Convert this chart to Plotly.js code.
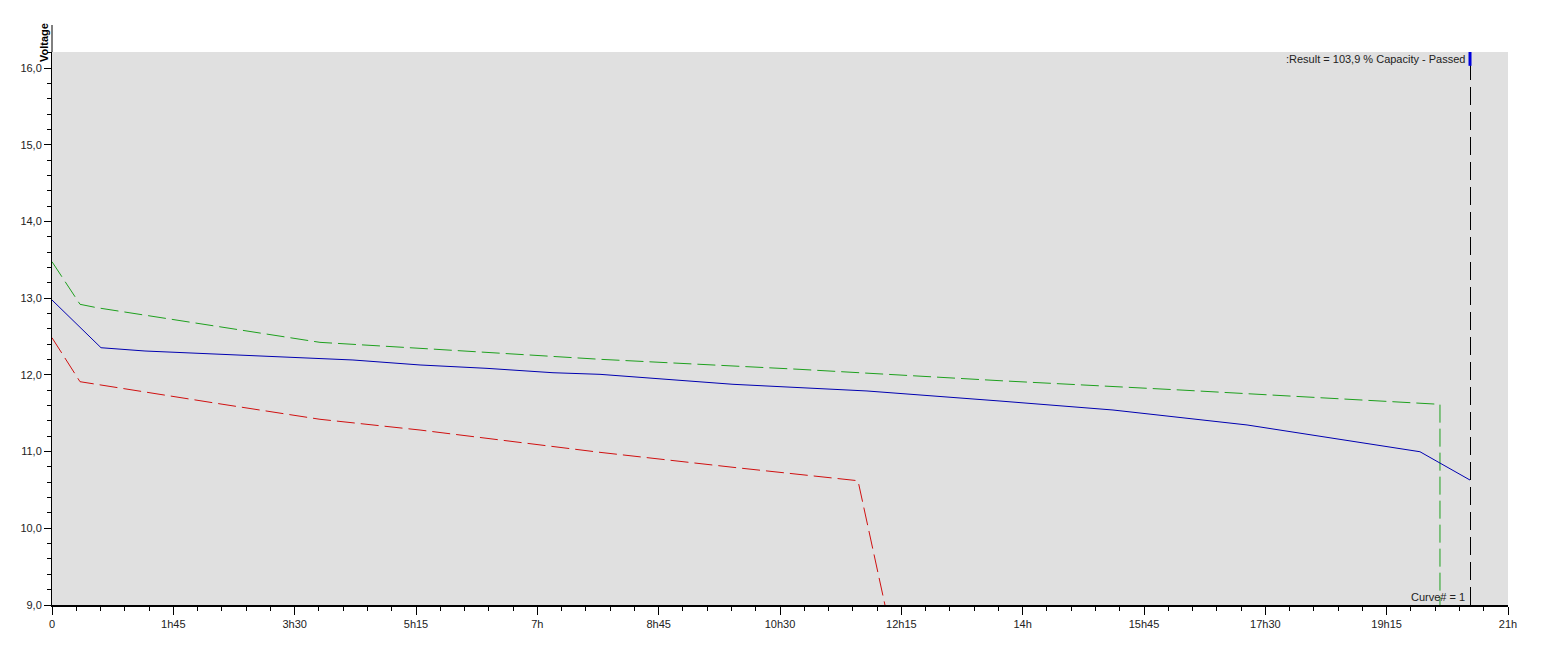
<!DOCTYPE html>
<html>
<head>
<meta charset="utf-8">
<script src="https://cdn.plot.ly/plotly-3.0.1.min.js"></script>
<style>html,body{margin:0;padding:0;background:#fff;}#chart{width:1555px;height:668px;}</style>
</head>
<body>
<div id="chart"></div>
<script>
// time in hours, voltage in V
const blueTime = [0, 0.707, 1.341, 2.423, 4.341, 5.308, 6.274, 7.226, 7.904, 9.822, 11.755, 13.673, 15.303, 17.236, 19.442, 19.73, 20.452];
const blueVolt = [12.976, 12.354, 12.311, 12.272, 12.194, 12.129, 12.085, 12.028, 12.007, 11.877, 11.790, 11.659, 11.542, 11.347, 11.037, 10.998, 10.629];

const greenTime = [0, 0.404, 0.645, 2.466, 3.865, 5.308, 6.750, 7.904, 10.788, 13.673, 16.269, 19.442, 20.019, 20.019];
const greenVolt = [13.475, 12.920, 12.876, 12.620, 12.424, 12.346, 12.268, 12.203, 12.072, 11.924, 11.803, 11.642, 11.616, 9.0];

const redTime = [0, 0.404, 2.466, 3.865, 5.308, 6.750, 7.904, 9.822, 11.625, 12.014];
const redVolt = [12.484, 11.911, 11.616, 11.421, 11.281, 11.121, 10.990, 10.795, 10.620, 9.0];

const cursorX = 20.452;
const xTickVals = [0, 1.75, 3.5, 5.25, 7, 8.75, 10.5, 12.25, 14, 15.75, 17.5, 19.25, 21];
const xTickText = ['0', '1h45', '3h30', '5h15', '7h', '8h45', '10h30', '12h15', '14h', '15h45', '17h30', '19h15', '21h'];
const resultText = ':Result = 103,9 % Capacity - Passed';
const curveText = 'Curve# = 1';
const yTitle = 'Voltage';

const font = {family: 'Arial, "Liberation Sans", sans-serif', size: 11, color: '#222'};

// half a pixel in x-axis units (plot width 1456 px over 21 h) for crisp 1px line
const halfPx = 0.5 * 21 / 1456;

const traces = [
  {x: greenTime, y: greenVolt, mode: 'lines', line: {color: '#1ea01e', width: 1, dash: '18px,6px'}, hoverinfo: 'skip'},
  {x: redTime, y: redVolt, mode: 'lines', line: {color: '#d01010', width: 1, dash: '18px,6px'}, hoverinfo: 'skip'},
  {x: blueTime, y: blueVolt, mode: 'lines', line: {color: '#0000b0', width: 1}, hoverinfo: 'skip'}
];

const layout = {
  width: 1555, height: 668,
  margin: {l: 52, r: 47, t: 52, b: 63},
  paper_bgcolor: '#ffffff',
  plot_bgcolor: '#e0e0e0',
  showlegend: false,
  separators: ',.',
  font: font,
  xaxis: {
    range: [0, 21], tickmode: 'array', tickvals: xTickVals, ticktext: xTickText,
    showgrid: false, zeroline: false, showline: true, linecolor: '#000', linewidth: 2,
    ticks: 'outside', ticklen: 8, tickcolor: '#000', tickwidth: 1,
    minor: {tickmode: 'linear', tick0: 0, dtick: 0.35, ticks: 'outside', ticklen: 4, tickcolor: '#000', showgrid: false},
    tickfont: font, fixedrange: true
  },
  yaxis: {
    range: [9, 16.209], tickmode: 'linear', tick0: 9, dtick: 1, tickformat: '.1f',
    showgrid: false, zeroline: false, showline: true, linecolor: '#000', linewidth: 1,
    ticks: 'outside', ticklen: 7, tickcolor: '#000', tickwidth: 1,
    minor: {tickmode: 'linear', tick0: 9, dtick: 0.2, ticks: 'outside', ticklen: 4, tickcolor: '#000', showgrid: false},
    tickfont: font, fixedrange: true
  },
  shapes: [
    {type: 'line', xref: 'x', yref: 'paper', x0: cursorX + halfPx, x1: cursorX + halfPx, y0: 0, y1: 1, line: {color: '#000', width: 1, dash: '18px,7px'}},
    {type: 'line', xref: 'x', yref: 'paper', x0: cursorX, x1: cursorX, y0: 0.975, y1: 1, line: {color: '#0000dd', width: 3}},
    {type: 'line', xref: 'paper', yref: 'paper', x0: 0, x1: 0, y0: 1, y1: 1.0488, line: {color: '#000', width: 1}}
  ],
  annotations: [
    {xref: 'x', yref: 'paper', x: cursorX, y: 0.987, xanchor: 'right', yanchor: 'middle', xshift: -3, text: resultText, showarrow: false, font: font},
    {xref: 'x', yref: 'paper', x: cursorX, y: 0.0145, xanchor: 'right', yanchor: 'middle', xshift: -3, text: curveText, showarrow: false, font: font},
    {xref: 'paper', yref: 'paper', x: 0, y: 1.0163, xanchor: 'center', yanchor: 'middle', xshift: -8, text: '<b>' + yTitle + '</b>', textangle: -90, showarrow: false, font: {family: font.family, size: 11, color: '#000'}}
  ]
};

Plotly.newPlot('chart', traces, layout, {displayModeBar: false, staticPlot: true});
</script>
</body>
</html>
